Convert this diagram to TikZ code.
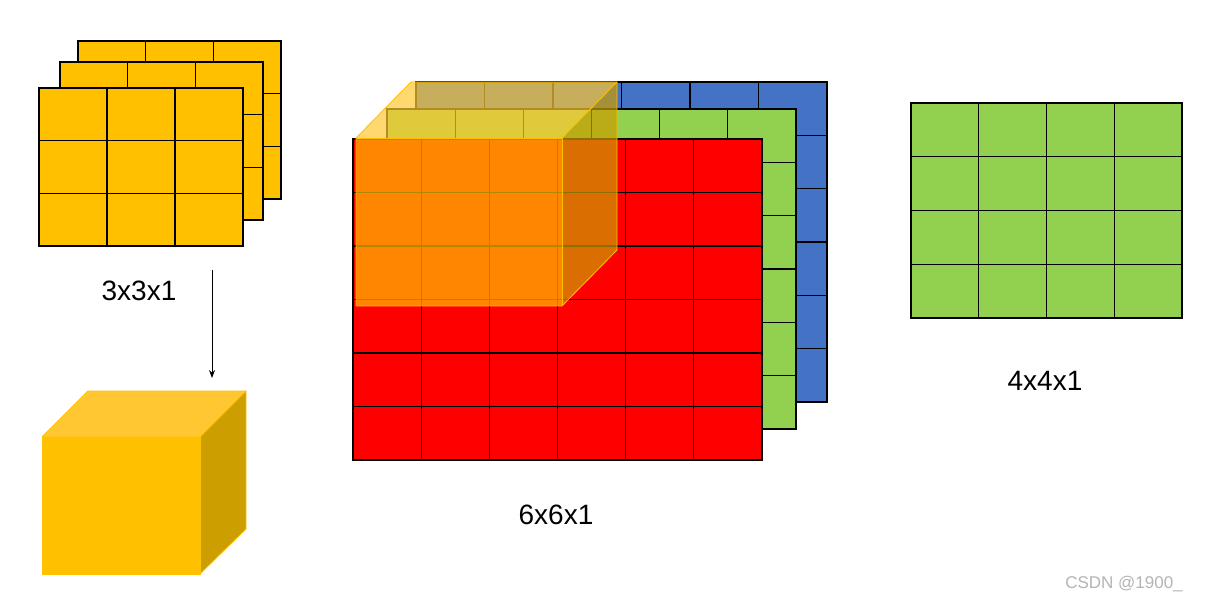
\documentclass[tikz,border=0pt]{standalone}
\usepackage{fontspec}
\setmainfont{Liberation Sans}
\usetikzlibrary{arrows.meta}
\definecolor{gold}{HTML}{FFC000}
\definecolor{goldtop}{HTML}{FFC832}
\definecolor{goldside}{HTML}{CC9E00}
\definecolor{cellred}{HTML}{FF0000}
\definecolor{cellgreen}{HTML}{92D050}
\definecolor{cellblue}{HTML}{4472C4}
\definecolor{wmgray}{HTML}{B4B4B4}
\newcommand{\cellblock}[7]{% x0,y0,x1,y1,cols,rows,colour
  \fill[#7] (#1,#2) rectangle (#3,#4);
  \foreach \i in {0,...,#5} {\draw[gridline] ({#1+(#3-#1)*\i/#5},#2) -- ({#1+(#3-#1)*\i/#5},#4);}
  \foreach \j in {0,...,#6} {\draw[gridline] (#1,{#2+(#4-#2)*\j/#6}) -- (#3,{#2+(#4-#2)*\j/#6});}
}
\begin{document}
\begin{tikzpicture}[x=1pt,y=-1pt,
  gridline/.style={draw=black,line width=1.3pt,line cap=rect},
  lbl/.style={font=\fontsize{28}{30}\selectfont,text=black,inner sep=0pt},
  cubeedge/.style={draw=gold,line width=0.8pt,line join=round},
  ]
\fill[white] (0,0) rectangle (1205,604);
\useasboundingbox (0,0) rectangle (1205,604);

% 3x3 stack
\cellblock{78}{41}{281}{199}{3}{3}{gold}
\cellblock{60}{62}{263}{220}{3}{3}{gold}
\cellblock{39}{88}{243}{246}{3}{3}{gold}
\node[lbl] (l331) at (139,291) {3x3x1};

% arrow
\coordinate (arrS) at (212,270);
\coordinate (arrE) at (212,378);
\draw[line width=1pt,-{Stealth[length=8pt,width=6pt]}] (arrS) -- (arrE);

% small cube
\coordinate (c1) at (42,437);
\coordinate (c2) at (200,437);
\coordinate (c3) at (200,574);
\coordinate (c4) at (42,574);
\coordinate (c5) at (88,391);
\coordinate (c6) at (246,391);
\coordinate (c7) at (246,529);
\fill[goldtop,cubeedge] (c1) -- (c5) -- (c6) -- (c2) -- cycle;
\fill[goldside,cubeedge] (c2) -- (c6) -- (c7) -- (c3) -- cycle;
\fill[gold,cubeedge] (c1) -- (c2) -- (c3) -- (c4) -- cycle;

% 6x6 stack
\cellblock{416}{82}{827}{402}{6}{6}{cellblue}
\cellblock{387}{109}{796}{429}{6}{6}{cellgreen}
\cellblock{353}{139}{762}{460}{6}{6}{cellred}
\node[lbl] (l661) at (556,515) {6x6x1};

% transparent cube
\coordinate (k1) at (356,138);
\coordinate (k2) at (562,138);
\coordinate (k3) at (562,306);
\coordinate (k4) at (356,306);
\coordinate (k5) at (411,82);
\coordinate (k6) at (617,82);
\coordinate (k7) at (617,250);
\fill[goldtop,fill opacity=0.7] (k1) -- (k5) -- (k6) -- (k2) -- cycle;
\fill[goldside,fill opacity=0.7] (k2) -- (k6) -- (k7) -- (k3) -- cycle;
\fill[gold,fill opacity=0.7] (k1) -- (k2) -- (k3) -- (k4) -- cycle;
\draw[cubeedge] (k1) -- (k5) -- (k6) -- (k7) -- (k3) -- (k4) -- cycle;
\draw[cubeedge] (k1) -- (k2) -- (k3);
\draw[cubeedge] (k2) -- (k6);

% 4x4 output
\cellblock{911}{103}{1182}{318}{4}{4}{cellgreen}
\node[lbl] (l441) at (1045,381) {4x4x1};

% watermark
\node[font=\fontsize{17}{19}\selectfont,text=wmgray,inner sep=0pt] (wm) at (1124,584) {CSDN @1900\_};
\end{tikzpicture}
\end{document}
